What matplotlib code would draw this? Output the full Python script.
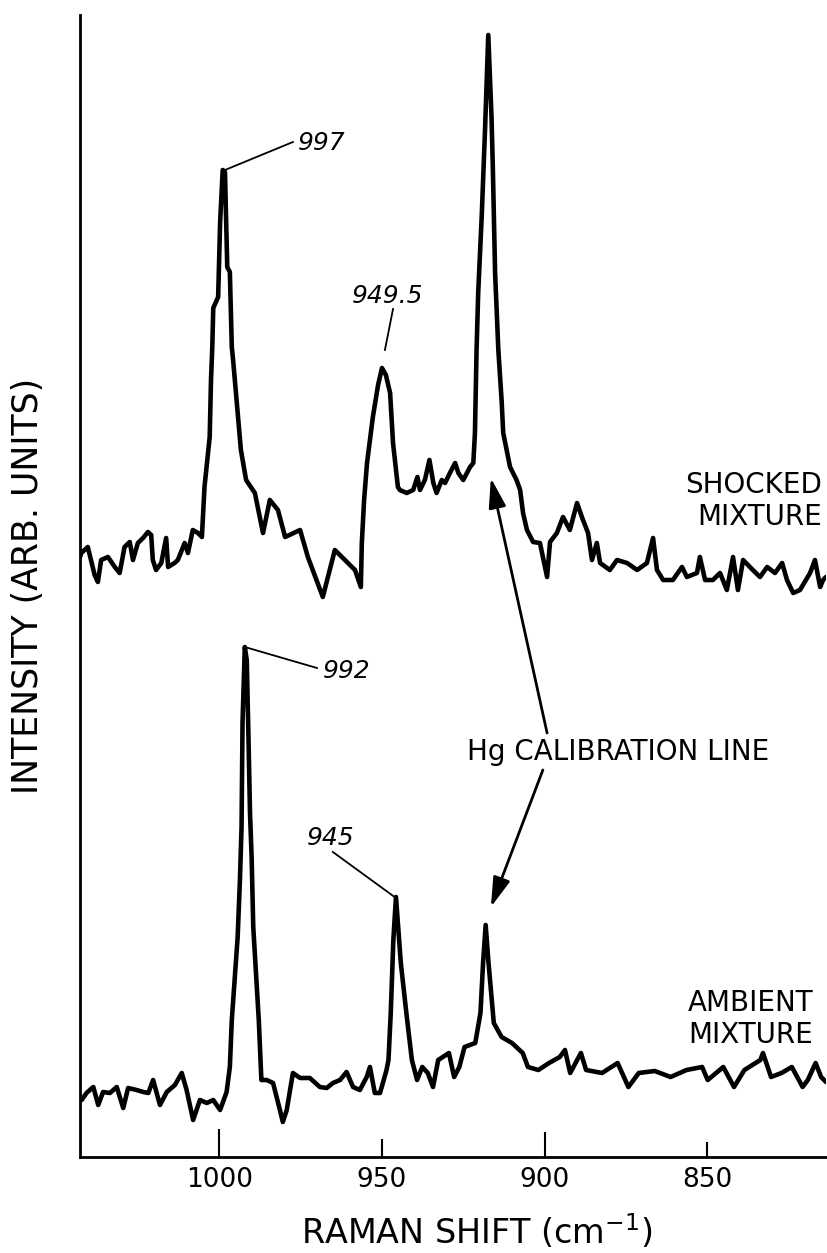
import matplotlib
matplotlib.use("Agg")
import matplotlib.pyplot as plt

# ---------------- data ----------------
# Raman shift (cm^-1) and intensity (arb. units) of the shocked mixture
shocked_cm = [
    1042.9, 1042.5, 1040.5, 1038.4, 1037.4, 1036.4, 1034.3, 1032.2, 1030.7, 1029.2,
    1027.6, 1026.6, 1025.1, 1023.5, 1022.0, 1021.0, 1020.5, 1019.5, 1017.9, 1016.4,
    1015.8, 1013.8, 1012.8, 1010.7, 1009.7, 1008.2, 1006.6, 1005.4, 1004.6, 1003.0,
    1002.6, 1002.2, 1001.9, 1000.4, 999.8, 999.3, 999.0, 998.3, 997.6, 996.8,
    996.2, 995.8, 993.4, 991.8, 989.1, 986.6, 984.5, 982.0, 979.8, 975.2,
    972.8, 968.2, 964.5, 961.4, 958.3, 956.5, 956.2, 955.5, 954.6, 952.8,
    951.2, 950.0, 948.8, 947.5, 946.6, 945.1, 944.5, 942.4, 940.4, 939.1,
    938.3, 936.8, 935.4, 934.2, 933.2, 931.6, 930.6, 929.1, 927.5, 926.5,
    925.0, 922.9, 921.9, 921.4, 920.9, 920.4, 919.3, 918.3, 917.3, 916.3,
    915.9, 915.2, 914.2, 913.2, 912.7, 910.6, 908.6, 907.5, 906.6, 905.4,
    903.5, 901.4, 899.2, 898.3, 896.2, 894.3, 892.2, 890.0, 888.5, 886.6,
    885.4, 883.9, 882.9, 879.9, 877.7, 874.6, 871.5, 868.5, 866.6, 865.4,
    863.5, 860.5, 857.7, 856.2, 853.1, 852.2, 850.6, 848.2, 846.0, 843.9,
    842.0, 840.5, 838.9, 835.9, 833.7, 831.5, 829.1, 826.9, 825.4, 823.5,
    821.4, 818.3, 816.8, 815.2, 814.3, 813.4,
]
shocked_int = [
    600, 604, 610, 582, 575, 597, 600, 590, 584, 610,
    615, 597, 614, 619, 625, 622, 597, 587, 594, 619,
    590, 594, 597, 614, 604, 627, 624, 620, 670, 720,
    777, 810, 849, 860, 934, 967, 987, 985, 890, 885,
    810, 797, 707, 677, 664, 624, 657, 647, 620, 627,
    600, 560, 607, 597, 587, 570, 614, 657, 694, 740,
    772, 789, 782, 764, 714, 670, 667, 664, 667, 680,
    667, 677, 697, 674, 664, 677, 674, 684, 694, 684,
    677, 690, 694, 724, 807, 864, 942, 1027, 1122, 1040,
    990, 884, 807, 757, 724, 690, 677, 667, 644, 627,
    615, 614, 580, 615, 624, 640, 627, 654, 640, 624,
    597, 614, 594, 587, 597, 594, 587, 594, 619, 587,
    577, 577, 590, 580, 584, 600, 577, 577, 584, 567,
    600, 567, 597, 587, 580, 590, 584, 594, 577, 564,
    567, 584, 597, 570, 577, 580,
]

# Raman shift (cm^-1) and intensity (arb. units) of the ambient mixture
ambient_cm = [
    1042.9, 1042.4, 1040.9, 1038.8, 1037.3, 1035.8, 1033.7, 1031.6, 1029.6, 1028.1,
    1025.5, 1023.4, 1021.9, 1020.4, 1018.3, 1016.2, 1013.7, 1011.6, 1010.1, 1008.1,
    1006.0, 1003.9, 1001.9, 999.8, 997.8, 996.8, 996.2, 994.4, 993.7, 993.2,
    992.9, 992.2, 991.6, 991.1, 990.6, 990.1, 989.6, 987.9, 987.1, 986.6,
    985.5, 983.5, 981.4, 980.5, 979.3, 977.4, 975.2, 972.2, 969.1, 967.0,
    965.1, 962.9, 960.9, 958.9, 956.8, 954.7, 953.7, 952.2, 950.6, 948.6,
    948.0, 947.3, 946.5, 945.7, 944.2, 942.5, 940.8, 939.2, 937.6, 935.9,
    934.3, 932.7, 929.4, 927.8, 926.2, 924.6, 921.3, 919.7, 918.9, 918.1,
    917.3, 915.6, 913.2, 910.0, 906.7, 905.1, 901.9, 898.6, 895.3, 893.7,
    892.1, 888.8, 887.2, 882.3, 877.5, 874.2, 871.0, 866.1, 861.2, 856.3,
    851.5, 849.8, 845.0, 841.7, 838.5, 833.6, 832.8, 830.3, 827.1, 823.9,
    820.6, 819.0, 816.6, 814.9, 813.4,
]
ambient_int = [
    60, 57, 64, 70, 52, 65, 64, 70, 49, 69,
    67, 65, 64, 77, 52, 65, 72, 84, 67, 37,
    57, 54, 57, 47, 65, 90, 137, 220, 277, 330,
    434, 510, 497, 424, 344, 300, 230, 137, 77, 77,
    77, 74, 47, 35, 47, 84, 79, 79, 70, 69,
    74, 77, 85, 70, 67, 80, 90, 64, 64, 87,
    97, 144, 217, 260, 194, 144, 97, 77, 90, 84,
    70, 97, 104, 80, 90, 110, 114, 144, 194, 232,
    197, 134, 120, 114, 104, 90, 87, 94, 100, 107,
    84, 104, 87, 84, 94, 70, 84, 86, 80, 87,
    90, 77, 90, 70, 87, 97, 104, 80, 84, 90,
    70, 77, 94, 80, 75,
]

tick_values = [1000, 950, 900, 850]
tick_labels = ["1000", "950", "900", "850"]

peak_labels = ["997", "949.5", "992", "945"]

# ---------------- figure ----------------
W, H = 828, 1253
fig = plt.figure(figsize=(W / 100, H / 100), dpi=100)
ax = fig.add_axes([80 / W, 96 / H, 746 / W, 1142 / H])

ax.plot(shocked_cm, shocked_int, color="black", lw=3.3,
        solid_joinstyle="round", solid_capstyle="round")
ax.plot(ambient_cm, ambient_int, color="black", lw=3.3,
        solid_joinstyle="round", solid_capstyle="round")

ax.set_xlim(1042.9, 813.4)
ax.set_ylim(0, 1142)

for s in ("top", "right"):
    ax.spines[s].set_visible(False)
for s in ("left", "bottom"):
    ax.spines[s].set_linewidth(2.0)

ax.set_yticks([])
ax.set_xticks(tick_values)
ax.set_xticklabels(tick_labels)
ax.tick_params(axis="x", direction="in", length=15, width=1.5,
               pad=7, labelsize=19)
# the hand-drawn ticks in the original have unequal lengths
for tk, ln in zip(ax.xaxis.get_major_ticks(), [20, 13, 18, 11]):
    tk.tick1line.set_markersize(ln)

ax.set_xlabel("RAMAN SHIFT (cm$^{-1}$)", fontsize=24, va="center")
ax.xaxis.set_label_coords(0.532, -0.0657)
ax.set_ylabel("INTENSITY (ARB. UNITS)", fontsize=25, va="center")
ax.yaxis.set_label_coords(-0.0697, 0.5)

# peak labels with leader lines
num_kw = dict(fontsize=18, style="italic", ha="left", va="baseline")
leaders = [
    ((998.3, 987), (977.4, 1015), (975.8, 1007)),
    ((946.6, 848), (949.1, 807), (959.2, 854)),
    ((992.2, 510), (970.0, 489), (968.2, 479)),
    ((965.1, 305), (945.7, 259), (973.1, 312)),
]
for lab, (p0, p1, tp) in zip(peak_labels, leaders):
    ax.plot([p0[0], p1[0]], [p0[1], p1[1]], color="black", lw=1.3)
    ax.text(tp[0], tp[1], lab, **num_kw)

# series labels
ax.text(814.6, 632, "SHOCKED\nMIXTURE", fontsize=20, ha="right",
        va="baseline", multialignment="right", linespacing=1.2)
ax.text(817.3, 114, "AMBIENT\nMIXTURE", fontsize=20, ha="right",
        va="baseline", multialignment="right", linespacing=1.2)

# Hg calibration line label and arrows
ax.text(923.8, 397, "Hg CALIBRATION LINE", fontsize=20, ha="left",
        va="baseline")
arrow_kw = dict(arrowstyle="-|>,head_length=1.2,head_width=0.35",
                color="black", lw=2.0, shrinkA=0, shrinkB=0,
                mutation_scale=15)
ax.annotate("", xy=(916.5, 679), xytext=(899.2, 424), arrowprops=arrow_kw)
ax.annotate("", xy=(916.5, 250), xytext=(900.5, 387), arrowprops=arrow_kw)

fig.savefig("out.png", dpi=100)
